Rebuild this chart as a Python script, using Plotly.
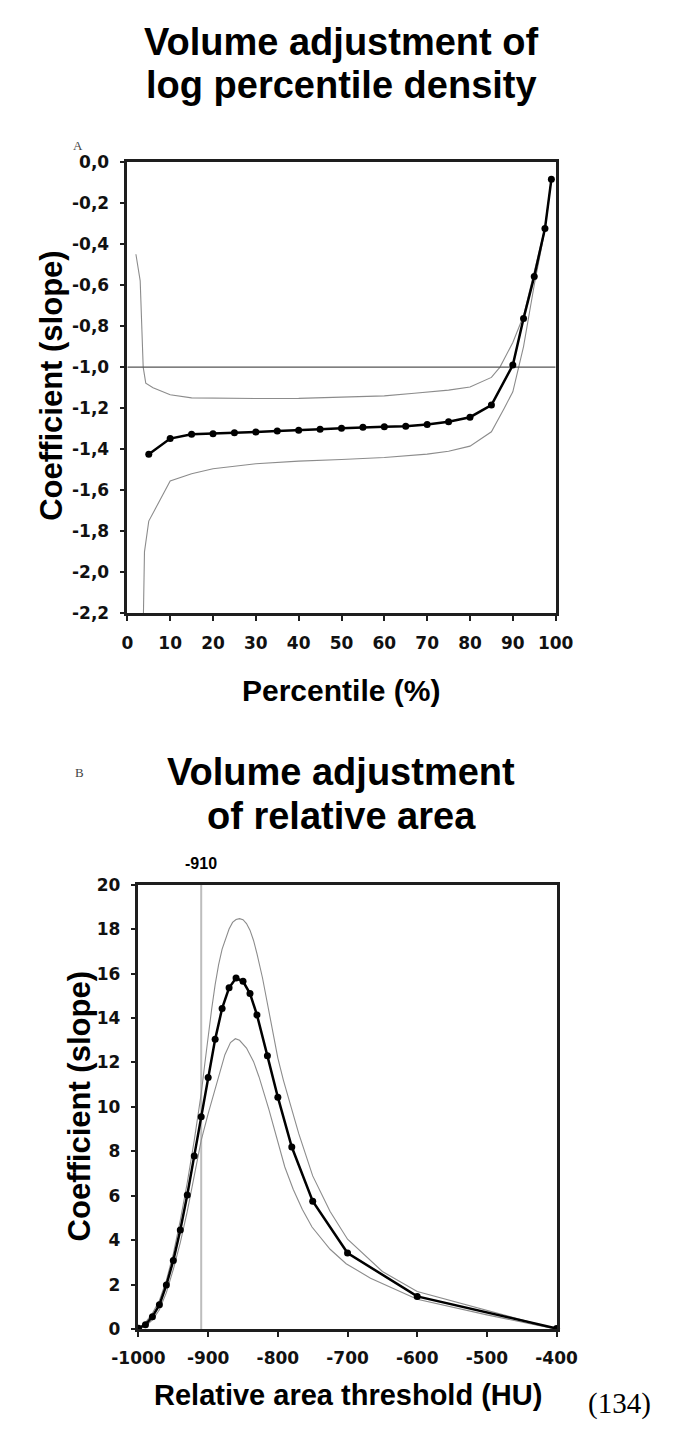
import plotly.graph_objects as go

# ---------------- Panel A data ----------------
pct_mean = [5, 10, 15, 20, 25, 30, 35, 40, 45, 50, 55, 60, 65, 70, 75, 80, 85, 90, 92.5, 95, 97.5, 99]
coef_mean = [-1.425, -1.348, -1.327, -1.324, -1.320, -1.316, -1.311, -1.308, -1.303, -1.298,
             -1.293, -1.291, -1.288, -1.279, -1.266, -1.244, -1.185, -0.99, -0.763, -0.558, -0.325, -0.085]

pct_upper = [2.0, 3.0, 3.7, 4.3, 6, 10, 15, 20, 30, 40, 50, 60, 67, 75, 80, 85, 87, 90, 92.5, 95, 97.5, 99]
coef_upper = [-0.45, -0.58, -1.0, -1.078, -1.10, -1.135, -1.15, -1.152, -1.153, -1.152, -1.147,
              -1.14, -1.127, -1.112, -1.097, -1.05, -1.0, -0.88, -0.75, -0.54, -0.32, -0.085]

pct_lower = [3.6, 4.0, 5, 10, 15, 20, 30, 40, 50, 60, 70, 75, 80, 85, 88, 90, 92.5, 95, 97.5, 99]
coef_lower = [-2.4, -1.9, -1.75, -1.555, -1.519, -1.495, -1.471, -1.458, -1.45, -1.44, -1.424,
              -1.41, -1.385, -1.315, -1.2, -1.12, -0.9, -0.6, -0.33, -0.085]

ref_line_a = -1.0
a_yticks = [0.0, -0.2, -0.4, -0.6, -0.8, -1.0, -1.2, -1.4, -1.6, -1.8, -2.0, -2.2]
a_yticklabels = ["0,0", "-0,2", "-0,4", "-0,6", "-0,8", "-1,0", "-1,2", "-1,4", "-1,6", "-1,8", "-2,0", "-2,2"]
a_xticks = [0, 10, 20, 30, 40, 50, 60, 70, 80, 90, 100]

# ---------------- Panel B data ----------------
hu_mean = [-1000, -990, -980, -970, -960, -950, -940, -930, -920, -910, -900, -890, -880, -870,
           -860, -850, -840, -830, -815, -800, -780, -750, -700, -600, -400]
slope_mean = [0.05, 0.2, 0.57, 1.1, 1.99, 3.1, 4.47, 6.04, 7.8, 9.56, 11.32, 13.04, 14.43, 15.36,
              15.8, 15.65, 15.1, 14.14, 12.3, 10.44, 8.2, 5.76, 3.43, 1.48, 0.04]

hu_upper = [-1000, -990, -980, -970, -960, -950, -940, -930, -920, -910, -905, -900, -895, -890,
            -885, -880, -875, -870, -865, -860, -855, -850, -845, -840, -835, -830, -822, -815,
            -807, -800, -792, -785, -770, -750, -725, -700, -650, -600, -500, -400]
slope_upper = [0.05, 0.3, 0.72, 1.3, 2.2, 3.4, 4.9, 6.6, 8.5, 10.6, 11.9, 13.2, 14.4, 15.5,
               16.4, 17.1, 17.6, 18.0, 18.3, 18.43, 18.47, 18.42, 18.25, 17.95, 17.5, 16.9, 15.8, 14.6,
               13.3, 12.2, 11.2, 10.4, 8.8, 6.9, 5.3, 4.05, 2.6, 1.7, 0.85, 0.0]

hu_lower = [-1000, -990, -980, -970, -960, -950, -940, -930, -920, -910, -900, -891, -884, -876,
            -868, -861, -855, -845, -835, -827, -813, -800, -790, -778, -765, -751, -725, -702,
            -667, -600, -500, -400]
slope_lower = [0.0, 0.14, 0.42, 0.88, 1.65, 2.7, 3.9, 5.3, 6.9, 8.5, 9.7, 10.65, 11.5, 12.35,
               12.9, 13.07, 13.0, 12.65, 12.05, 11.35, 9.9, 8.4, 7.3, 6.3, 5.4, 4.6, 3.6, 2.95,
               2.3, 1.35, 0.65, 0.0]

ref_line_b = -910
b_yticks = [0, 2, 4, 6, 8, 10, 12, 14, 16, 18, 20]
b_xticks = [-1000, -900, -800, -700, -600, -500, -400]
b_xticklabels = ["-1000", "-900", "-800", "-700", "-600", "-500", "-400"]

# ---------------- Figure ----------------
W, H = 677, 1432
FONT = "Liberation Sans, Arial, sans-serif"
TICKFONT = "DejaVu Sans, Verdana, sans-serif"
SERIF = "Liberation Serif, Times New Roman, serif"
AX = "#1e1e1e"
CI = "#8c8c8c"


def px(x):
    return x / W


def py(y):
    return 1 - y / H


fig = go.Figure()

# Panel A traces
fig.add_trace(go.Scatter(x=pct_upper, y=coef_upper, mode="lines",
                         line=dict(color=CI, width=1.1), xaxis="x", yaxis="y", showlegend=False))
fig.add_trace(go.Scatter(x=pct_lower, y=coef_lower, mode="lines",
                         line=dict(color=CI, width=1.1), xaxis="x", yaxis="y", showlegend=False))
fig.add_trace(go.Scatter(x=[0, 100], y=[ref_line_a, ref_line_a], mode="lines",
                         line=dict(color="#555555", width=1.2), xaxis="x", yaxis="y", showlegend=False))
fig.add_trace(go.Scatter(x=pct_mean, y=coef_mean, mode="lines+markers", cliponaxis=False,
                         line=dict(color="black", width=2.5),
                         marker=dict(color="black", size=7), xaxis="x", yaxis="y", showlegend=False))

# Panel B traces
fig.add_trace(go.Scatter(x=[ref_line_b, ref_line_b], y=[0, 20], mode="lines",
                         line=dict(color="#bdbdbd", width=2), xaxis="x2", yaxis="y2", showlegend=False))
fig.add_trace(go.Scatter(x=hu_upper, y=slope_upper, mode="lines",
                         line=dict(color=CI, width=1.1), xaxis="x2", yaxis="y2", showlegend=False))
fig.add_trace(go.Scatter(x=hu_lower, y=slope_lower, mode="lines",
                         line=dict(color=CI, width=1.1), xaxis="x2", yaxis="y2", showlegend=False))
fig.add_trace(go.Scatter(x=hu_mean, y=slope_mean, mode="lines+markers", cliponaxis=False,
                         line=dict(color="black", width=2.5),
                         marker=dict(color="black", size=7), xaxis="x2", yaxis="y2", showlegend=False))

axis_common = dict(showline=True, mirror=True, linecolor=AX, linewidth=2.5,
                   ticks="outside", ticklen=5, tickwidth=2, tickcolor=AX,
                   showgrid=False, zeroline=False, ticklabelstandoff=7,
                   tickfont=dict(family=TICKFONT, size=17, color="#111111", weight="bold"))

fig.update_layout(
    width=W, height=H, autosize=False,
    margin=dict(l=0, r=0, t=0, b=0),
    paper_bgcolor="white", plot_bgcolor="white",
    xaxis=dict(domain=[px(108), px(569)], range=[0, 100], anchor="y",
               tickvals=a_xticks, **axis_common),
    yaxis=dict(domain=[py(612), py(154)], range=[-2.2, 0], anchor="x",
               tickvals=a_yticks, ticktext=a_yticklabels, **axis_common),
    xaxis2=dict(domain=[px(120), px(570)], range=[-1000, -400], anchor="y2",
                tickvals=b_xticks, ticktext=b_xticklabels, **axis_common),
    yaxis2=dict(domain=[py(1338), py(887)], range=[0, 20], anchor="x2",
                tickvals=b_yticks, **axis_common),
)

ann = []


def add(text, x, y, size, bold=True, family=FONT, angle=0, color="black", xanchor="center"):
    ann.append(dict(text=text, x=px(x), y=py(y), xref="paper", yref="paper",
                    showarrow=False, textangle=angle, xanchor=xanchor, yanchor="middle",
                    font=dict(family=family, size=size, color=color,
                              weight="bold" if bold else "normal")))


add("Volume adjustment of", 338, 32, 38)
add("log percentile density", 338, 76, 38)
add("A", 55, 137, 13, bold=False, family=SERIF, color="#444444")
add("Coefficient (slope)", 27, 381, 31, angle=-90)
add("Percentile (%)", 338, 690, 30)

add("B", 57, 773, 13, bold=False, family=SERIF, color="#444444")
add("Volume adjustment", 338, 773, 38)
add("of relative area", 338, 817, 38)
add("-910", 187, 866, 16)
add("Coefficient (slope)", 57, 1112, 31, angle=-90)
add("Relative area threshold (HU)", 345, 1405, 29)
add("(134)", 638, 1413, 29, bold=False, family=SERIF)

fig.update_layout(annotations=ann)

fig.write_html("out.html")
